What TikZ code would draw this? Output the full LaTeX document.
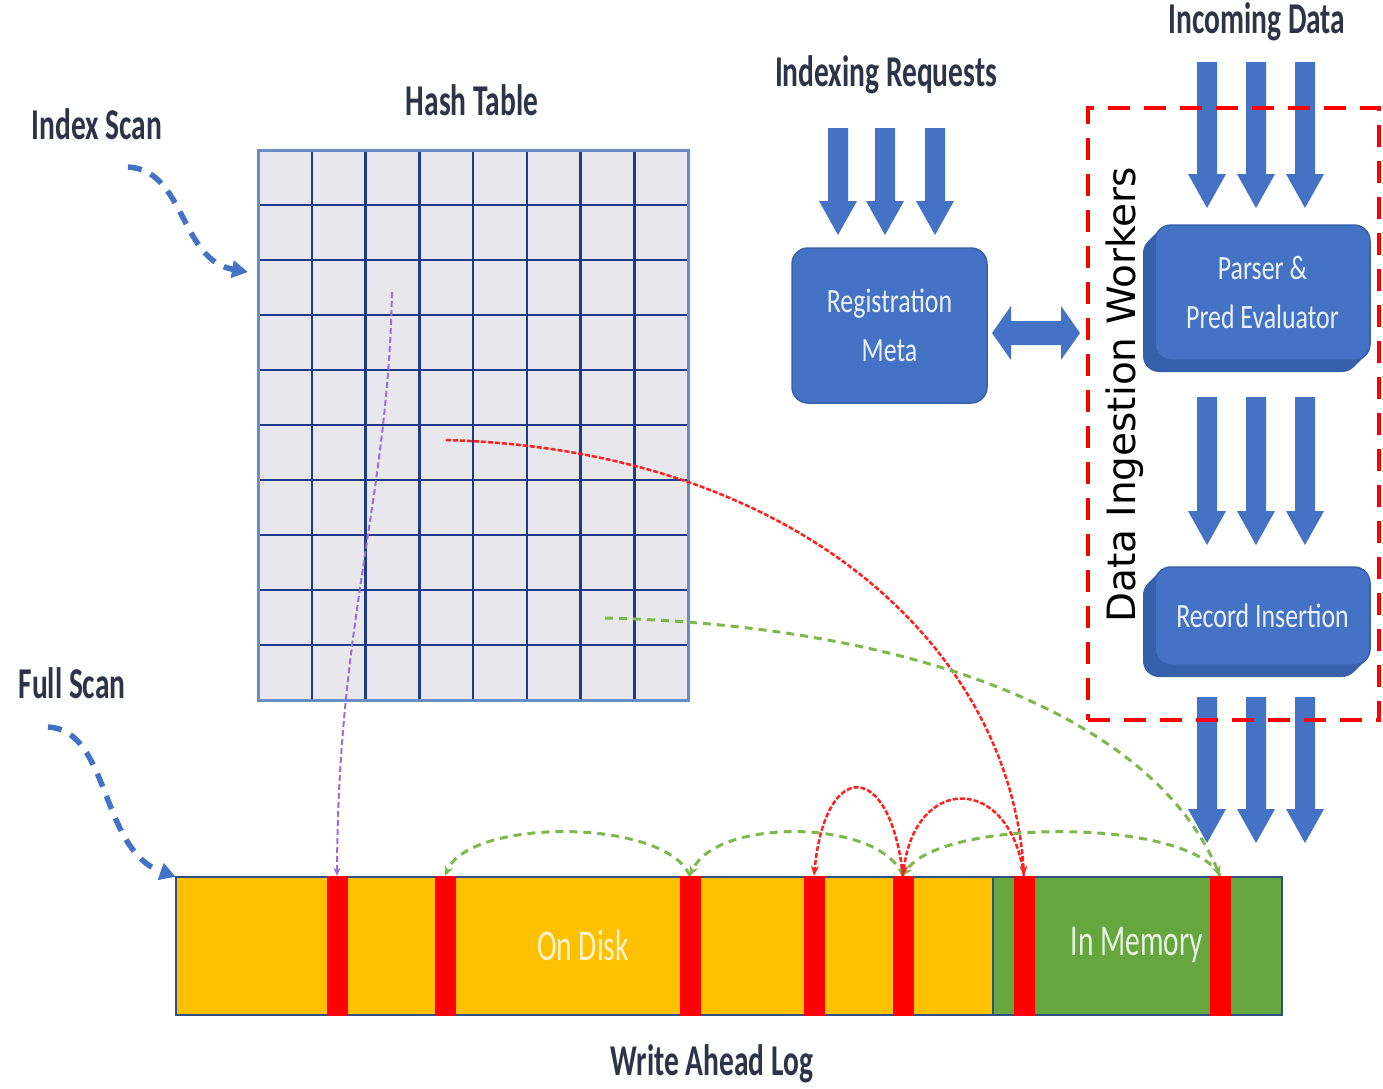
\documentclass[tikz,border=0pt]{standalone}
\usepackage{fontspec}
\usepackage{graphicx}
\setmainfont{Carlito}
\newfontfamily\dvsans{DejaVu Sans}
\usetikzlibrary{arrows.meta}
\definecolor{mblue}{HTML}{4472C4}
\definecolor{mbluedark}{HTML}{3760AA}
\definecolor{gridline}{HTML}{1F3A87}
\definecolor{gridborder}{HTML}{6A8CC6}
\definecolor{gridfill}{HTML}{E8E8EC}
\definecolor{walorange}{HTML}{FFC000}
\definecolor{walgreen}{HTML}{66A63E}
\definecolor{walborder}{HTML}{2F5080}
\definecolor{lblcol}{HTML}{2E3448}
\definecolor{arcgreen}{HTML}{7DB84A}
\definecolor{arcred}{HTML}{FF2020}
\definecolor{purp}{HTML}{9A6FD2}
\newcommand{\lbltxt}[1]{\fontsize{44}{46}\selectfont\scalebox{0.67}[1]{#1}}
\newcommand{\boxtxt}[1]{\scalebox{0.76}[1]{#1}}
\newcommand{\blockdown}[3]{\fill[mblue] (#1-10,#2) -- (#1+10,#2) -- (#1+10,#3-34) -- (#1+19,#3-34) -- (#1,#3) -- (#1-19,#3-34) -- (#1-10,#3-34) -- cycle;}
\tikzset{
  lbl/.style={text=lblcol, inner sep=0pt, font=\bfseries},
  rbox/.style={fill=mblue, draw=mbluedark, line width=1.5pt, rounded corners=16pt, text=white!90!mblue, font=\fontsize{34}{49}\selectfont, align=center, inner sep=0pt},
  redbar/.style={fill=red, minimum width=21pt, minimum height=140pt, inner sep=0pt},
  bluedash/.style={mblue, line width=5.5pt, dash pattern=on 14pt off 10pt, -{Triangle[length=16pt,width=17pt]}},
  reddash/.style={arcred, line width=2.5pt, dash pattern=on 5pt off 2pt, -{Stealth[length=10pt,width=8pt]}},
  greendash/.style={arcgreen, line width=3pt, dash pattern=on 8pt off 6pt, -{Stealth[length=10pt,width=9pt]}},
  purpdash/.style={purp, line width=2pt, dash pattern=on 6pt off 3pt, -{Stealth[length=8pt,width=7pt]}},
  gridln/.style={gridline, line width=2.5pt}
}
\begin{document}
\begin{tikzpicture}[x=1pt, y=-1pt]
\useasboundingbox (0,0) rectangle (1383,1088);
\fill[white] (0,0) rectangle (1383,1088);

% labels
\node[lbl] (idxscan) at (97,124) {\lbltxt{Index Scan}};
\node[lbl] (hashlbl) at (472,100) {\lbltxt{Hash Table}};
\node[lbl] (idxreq) at (886,75) {\lbltxt{Indexing Requests}};
\node[lbl] (incdata) at (1257,22) {\lbltxt{Incoming Data}};
\node[lbl] (fullscan) at (72,683) {\lbltxt{Full Scan}};
\node[lbl] (walabel) at (712,1064) {\lbltxt{Write Ahead Log}};

% hash table grid
\node[fill=gridfill, minimum width=430pt, minimum height=550pt, inner sep=0pt] (hash) at (473,425) {};
\foreach \i in {1,...,7} \draw[gridln] ({258+\i*53.75},150) -- ({258+\i*53.75},700);
\foreach \j in {1,...,9} \draw[gridln] (258,{150+\j*55}) -- (688,{150+\j*55});
\draw[gridborder, line width=3pt] (258,150) rectangle (688,700);

% registration meta
\node[rbox, minimum width=195pt, minimum height=155pt] (reg) at (889.5,325.5) {\boxtxt{Registration}\\\boxtxt{Meta}};

% indexing request arrows
\blockdown{838}{128}{235}
\blockdown{885}{128}{235}
\blockdown{935}{128}{235}

% incoming data arrows
\foreach \x in {1207,1256,1305} {\blockdown{\x}{62}{208}}
\foreach \x in {1207,1256,1305} {\blockdown{\x}{397}{545}}
\foreach \x in {1207,1256,1305} {\blockdown{\x}{697}{843}}

% parser box with extrusion
\foreach \d in {12,11,...,1} \fill[mbluedark, rounded corners=16pt] ({1155-\d},{225+\d}) rectangle ({1370-\d},{360+\d});
\node[rbox, minimum width=215pt, minimum height=135pt] (parser) at (1262.5,292.5) {\boxtxt{Parser \&}\\\boxtxt{Pred Evaluator}};

% record insertion box with extrusion
\foreach \d in {12,11,...,1} \fill[mbluedark, rounded corners=16pt] ({1155-\d},{567+\d}) rectangle ({1370-\d},{665+\d});
\node[rbox, minimum width=215pt, minimum height=98pt] (record) at (1262.5,616) {\boxtxt{Record Insertion}};

% data ingestion workers dashed box
\node[draw=red, line width=4.5pt, dash pattern=on 22pt off 14pt, minimum width=291pt, minimum height=612pt, inner sep=0pt] (diw) at (1233.5,414) {};
\node[rotate=90, inner sep=0pt, font=\dvsans\fontsize{39}{42}\selectfont, text=black] (diwlbl) at (1125,395) {Data Ingestion Workers};

% double arrow
\fill[mblue] (992,333) -- (1011,306) -- (1011,321) -- (1061,321) -- (1061,306) -- (1080,333) -- (1061,360) -- (1061,345) -- (1011,345) -- (1011,360) -- cycle;

% write ahead log
\node[fill=walorange, minimum width=817pt, minimum height=138pt, inner sep=0pt] (disk) at (584.5,946) {};
\node[fill=walgreen, minimum width=289pt, minimum height=138pt, inner sep=0pt] (mem) at (1137.5,946) {};
\draw[walborder, line width=2pt] (disk.north west) rectangle (mem.south east);
\draw[walborder, line width=1.5pt] (disk.north east) -- (disk.south east);
\node[inner sep=0pt, text=white!80!walorange] (disktxt) at (583,945) {\lbltxt{On Disk}};
\node[inner sep=0pt, text=white!85!walgreen] (memtxt) at (1137,945) {\lbltxt{In Memory}};

\foreach \x/\n in {337/b1, 445/b2, 690/b3, 814/b4, 903/b5, 1024/b6, 1220/b7}
  \node[redbar] (\n) at (\x,946) {};

% scan arrows
\coordinate (is0) at (128,167);
\coordinate (ie) at (248,272);
\draw[bluedash] (is0) .. controls (185,170) and (180,260) .. (ie);
\coordinate (fs0) at (48,727);
\draw[bluedash] (fs0) .. controls (110,730) and (100,850) .. (disk.north west);

% index pointers
\coordinate (ps) at (392,292);
\draw[purpdash] (ps) .. controls (388,500) and (338,620) .. (b1.north);
\coordinate (rs) at (446,440);
\draw[reddash] (rs) .. controls (800,450) and (1010,650) .. (b6.north);
\coordinate (gs) at (605,618);
\draw[greendash] (gs) .. controls (900,625) and (1150,710) .. (b7.north);

% chains
\draw[greendash] (b7.north) .. controls +(-30,-58) and +(37,-58) .. (b5.north);
\draw[greendash] (b5.north) .. controls +(-23,-58) and +(25,-58) .. (b3.north);
\draw[greendash] (b3.north) .. controls +(-25,-58) and +(25,-58) .. (b2.north);
\draw[reddash] (b6.north) .. controls +(-14,-102) and +(12,-102) .. (b5.north);
\draw[reddash] (b5.north) .. controls +(-13,-117) and +(11,-117) .. (b4.north);
\end{tikzpicture}
\end{document}
